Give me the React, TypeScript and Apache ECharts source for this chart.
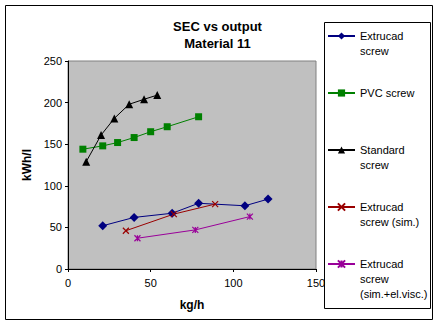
import React, { useEffect, useRef } from "react";
import * as echarts from "echarts";

const extrucadX = [21, 40, 63, 79, 107, 121];
const extrucadY = [52, 62, 67, 79, 76, 84];
const pvcX = [9, 21, 30, 40, 50, 60, 79];
const pvcY = [144, 148, 152, 158, 165, 171, 183];
const standardX = [11, 20, 28, 37, 46, 54];
const standardY = [129, 161, 181, 198, 204, 209];
const simX = [35, 64, 89];
const simY = [46, 66, 78];
const viscX = [42, 77, 110];
const viscY = [37, 47, 63];

const seriesNames = [
  "Extrucad screw",
  "PVC screw",
  "Standard screw",
  "Extrucad screw (sim.)",
  "Extrucad screw (sim.+el.visc.)",
];
const legendLabels = [
  "Extrucad\nscrew",
  "PVC screw",
  "Standard\nscrew",
  "Extrucad\nscrew (sim.)",
  "Extrucad\nscrew\n(sim.+el.visc.)",
];
const xTicks = { min: 0, max: 150, interval: 50 };
const yTicks = { min: 0, max: 250, interval: 50 };

const FONT = 'Arial, "Liberation Sans", sans-serif';

const zip = (xs: number[], ys: number[]) => xs.map((x, i) => [x, ys[i]]);

const CROSS = "path://M0,0L10,10M10,0L0,10";
const STAR = "path://M0,0L10,10M10,0L0,10M5,0L5,10";

export default function App() {
  const ref = useRef<HTMLDivElement>(null);
  useEffect(() => {
    if (!ref.current) return;
    const chart = echarts.init(ref.current, null, { renderer: "svg" });
    const colors = ["#000080", "#008000", "#000000", "#990000", "#990099"];
    const mk = (i: number, xs: number[], ys: number[], symbol: string, size: number, stroke = false) => ({
      type: "line",
      name: seriesNames[i],
      data: zip(xs, ys),
      symbol,
      symbolSize: size,
      showAllSymbol: true,
      lineStyle: { color: colors[i], width: 1 },
      itemStyle: stroke
        ? { color: "rgba(0,0,0,0)", borderColor: colors[i], borderWidth: 1.2 }
        : { color: colors[i], borderColor: colors[i], borderWidth: 0 },
      emphasis: { disabled: true },
    });
    const legendTops = [13.5, 85.5, 127.5, 184.5, 226.5];
    chart.setOption({
      animation: false,
      backgroundColor: "#ffffff",
      textStyle: { fontFamily: FONT },
      title: {
        text: "SEC vs output\nMaterial 11",
        left: "center",
        top: 13,
        textStyle: { fontFamily: FONT, fontSize: 13, fontWeight: "bold", lineHeight: 17, color: "#000" },
      },
      legend: legendTops.map((top, i) => ({
        data: [seriesNames[i]],
        left: 327,
        top,
        padding: 0,
        itemWidth: 27,
        itemHeight: 9,
        itemGap: 4,
        selectedMode: false,
        formatter: () => {
          const lbl = legendLabels[i];
          const n = lbl.split("\n").length;
          return "\n".repeat(n - 1) + lbl;
        },
        textStyle: {
          fontFamily: FONT,
          fontSize: 11,
          lineHeight: 15,
          color: "#000",
        },
      })),
      grid: {
        left: 68,
        top: 61,
        right: 119,
        bottom: 56,
        show: true,
        backgroundColor: "#c0c0c0",
        borderColor: "#808080",
        borderWidth: 1,
      },
      xAxis: {
        type: "value",
        ...xTicks,
        name: "kg/h",
        nameLocation: "middle",
        nameGap: 30,
        nameTextStyle: { fontFamily: FONT, fontSize: 12, fontWeight: "bold", color: "#000" },
        axisLine: { show: true, onZero: false, lineStyle: { color: "#000", width: 1 } },
        axisTick: { show: true, length: 3, lineStyle: { color: "#000" } },
        axisLabel: { fontFamily: FONT, fontSize: 11, color: "#000", margin: 8 },
        splitLine: { show: false },
      },
      yAxis: {
        type: "value",
        ...yTicks,
        name: "kWh/l",
        nameLocation: "middle",
        nameGap: 31,
        nameTextStyle: { fontFamily: FONT, fontSize: 12, fontWeight: "bold", color: "#000" },
        axisLine: { show: true, onZero: false, lineStyle: { color: "#000", width: 1 } },
        axisTick: { show: true, length: 3, lineStyle: { color: "#000" } },
        axisLabel: { fontFamily: FONT, fontSize: 11, color: "#000", margin: 6 },
        splitLine: { show: false },
      },
      graphic: [
        {
          type: "rect",
          shape: { x: 5.5, y: 5.5, width: 427, height: 314 },
          style: { fill: "none", stroke: "#000", lineWidth: 1 },
          silent: true,
          z: -1,
        },
        {
          type: "rect",
          shape: { x: 324.5, y: 22.5, width: 106, height: 286 },
          style: { fill: "none", stroke: "#000", lineWidth: 1 },
          silent: true,
        },
      ],
      series: [
        mk(0, extrucadX, extrucadY, "diamond", 9),
        mk(1, pvcX, pvcY, "rect", 7),
        mk(2, standardX, standardY, "triangle", 8),
        mk(3, simX, simY, CROSS, 6, true),
        mk(4, viscX, viscY, STAR, 6, true),
      ],
    });
    return () => chart.dispose();
  }, []);
  return (
    <div
      ref={ref}
      style={{ position: "fixed", left: 0, top: 0, width: 435, height: 325 }}
    />
  );
}
